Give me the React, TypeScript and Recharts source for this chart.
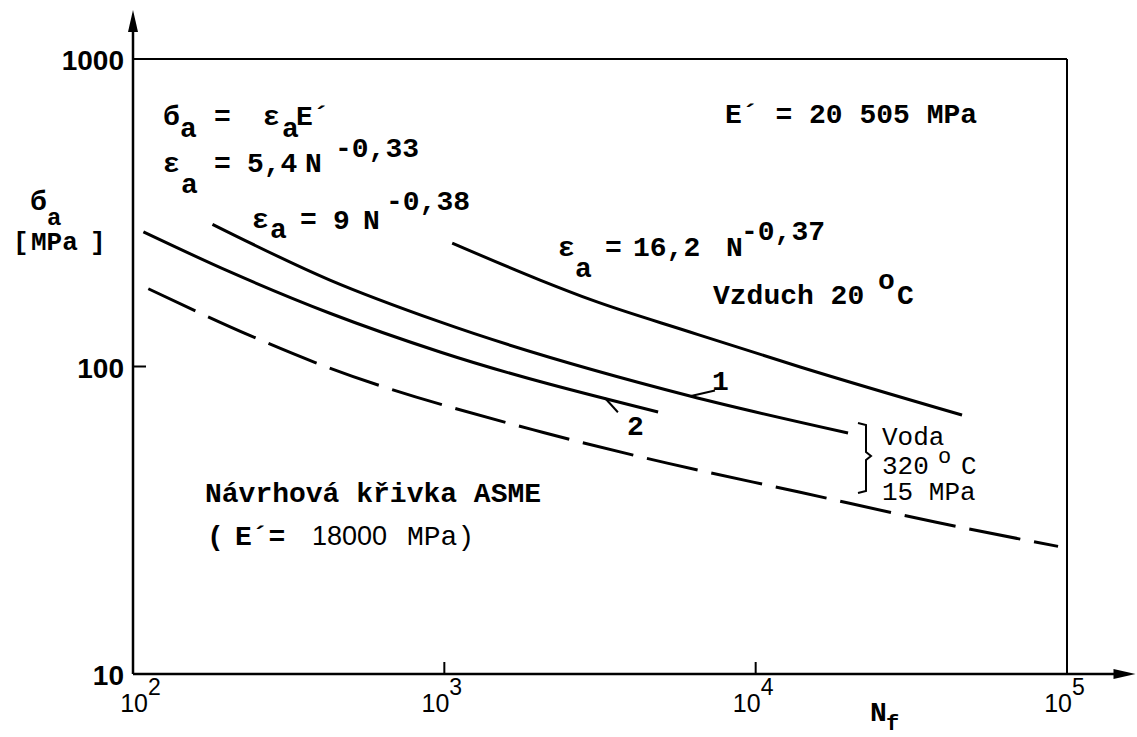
import React from "react";
import { LineChart, Line, XAxis, YAxis, ReferenceLine } from "recharts";

// cycles to failure N_f vs. stress amplitude [MPa]
const airN = [1060, 2030, 3000, 6150, 13900, 46000];
const airS = [252, 191, 164, 129.5, 99.6, 69.5];

const water1N = [180, 429, 969, 6150, 19800];
const water1S = [290, 191, 139.6, 80.2, 60.8];

const water2N = [108, 205, 429, 969, 4860];
const water2S = [274, 203, 149, 111.5, 71.1];

const asmeN = [112, 238, 385, 2080, 5200, 13900, 37700, 93600];
const asmeS = [179, 126, 103, 61, 48.5, 39, 31.2, 26];

const xTicks = [100, 1000, 10000, 100000];
const yTicks = [10, 100, 1000];

// leader lines for the "1" and "2" curve labels
const leader1 = [{ x: 6150, y: 80 }, { x: 7400, y: 83.5 }];
const leader2 = [{ x: 3280, y: 79 }, { x: 3610, y: 71 }];

const rows = (n: number[], s: number[]) => n.map((v, i) => ({ n: v, s: s[i] }));

const mono = "'Liberation Mono', 'DejaVu Sans Mono', monospace";
const sans = "'Liberation Sans', Arial, sans-serif";

const XTick = (props: any) => {
  const { x, y, payload } = props;
  const v = payload.value;
  const exp = Math.round(Math.log10(v));
  const inner = v > 100 && v < 100000;
  // the first label sits a bit right of the corner, clear of the y "10"
  const dx = v === 100 ? 15 : 5;
  return (
    <g>
      {inner && <line x1={x} y1={y} x2={x} y2={y - 12} stroke="#000" strokeWidth={2} />}
      <text x={x + dx} y={y + 38} textAnchor="end" fontFamily={sans} fontSize={25} fill="#000">10</text>
      <text x={x + dx} y={y + 21} fontFamily={sans} fontSize={23} fill="#000">{exp}</text>
    </g>
  );
};

const YTick = (props: any) => {
  const { x, y, payload } = props;
  const v = payload.value;
  return (
    <g>
      {v === 100 && <line x1={x} y1={y} x2={x + 13} y2={y} stroke="#000" strokeWidth={2} />}
      <text x={x - 9} y={y + 11} textAnchor="end" fontFamily={sans} fontWeight="bold" fontSize={28} fill="#000">
        {v}
      </text>
    </g>
  );
};

const arrowShape = (props: any) => {
  const { x1, y1, x2, y2 } = props;
  const dx = x2 - x1;
  const dy = y2 - y1;
  const len = Math.hypot(dx, dy) || 1;
  const ux = dx / len;
  const uy = dy / len;
  const L = 22;
  const W = 5;
  const bx = x2 - ux * L;
  const by = y2 - uy * L;
  const px = -uy * W;
  const py = ux * W;
  return (
    <g>
      <line x1={x1} y1={y1} x2={bx + ux * 4} y2={by + uy * 4} stroke="#000" strokeWidth={2.5} />
      <polygon points={`${x2},${y2} ${bx + px},${by + py} ${bx - px},${by - py}`} fill="#000" />
    </g>
  );
};

const Annotations = () => {
  const b = { fontFamily: mono, fontWeight: "bold" as const, fontSize: 28, fill: "#000" };
  const r = { fontFamily: mono, fontWeight: "normal" as const, fontSize: 26, fill: "#000" };
  return (
    <svg
      width={1137}
      height={737}
      style={{ position: "absolute", left: 0, top: 0, pointerEvents: "none" }}
    >
      {/* y axis title */}
      <text x={30} y={210} {...b}>б</text>
      <text x={47} y={225} {...b} fontSize={24}>a</text>
      <text x={13} y={250} {...b} fontSize={26}>[</text>
      <text x={31} y={250} {...b} fontSize={26}>MPa</text>
      <text x={90} y={250} {...b} fontSize={26}>]</text>

      {/* x axis title */}
      <text x={870} y={721} {...b}>N</text>
      <text x={886} y={730} {...b} fontSize={22}>f</text>

      {/* formulas */}
      <text x={163} y={125} {...b}>б</text>
      <text x={180} y={137} {...b}>a</text>
      <text x={214} y={125} {...b}>=</text>
      <text x={263} y={125} {...b}>ε</text>
      <text x={282} y={137} {...b}>a</text>
      <text x={296} y={125} {...b}>E´</text>

      <text x={163} y={172} {...b}>ε</text>
      <text x={181} y={193} {...b}>a</text>
      <text x={214} y={172} {...b}>=</text>
      <text x={247} y={172} {...b}>5,4</text>
      <text x={305} y={172} {...b}>N</text>
      <text x={335} y={157} {...b}>-0,33</text>

      <text x={252} y={228} {...b}>ε</text>
      <text x={270} y={238} {...b}>a</text>
      <text x={300} y={228} {...b}>=</text>
      <text x={333} y={229} {...b}>9</text>
      <text x={363} y={229} {...b}>N</text>
      <text x={386} y={210} {...b}>-0,38</text>

      <text x={558} y={256} {...b}>ε</text>
      <text x={575} y={277} {...b}>a</text>
      <text x={605} y={256} {...b}>=</text>
      <text x={633} y={256} {...b}>16,2</text>
      <text x={726} y={256} {...b}>N</text>
      <text x={741} y={240} {...b}>-0,37</text>

      <text x={725} y={123} {...b}>E´ = 20 505 MPa</text>

      <text x={713} y={304} {...b}>Vzduch 20</text>
      <text x={878} y={289} {...b}>o</text>
      <text x={897} y={304} {...b}>C</text>

      <text x={712} y={390} {...b}>1</text>
      <text x={627} y={435} {...b}>2</text>

      {/* water bracket */}
      <path
        d="M858 423 L866 425 L866 452 L871 456 L866 460 L866 491 L858 493"
        fill="none"
        stroke="#000"
        strokeWidth={2}
      />
      <text x={882} y={445} {...r}>Voda</text>
      <text x={882} y={474} {...r}>320</text>
      <text x={938} y={463} {...r} fontSize={22}>o</text>
      <text x={961} y={474} {...r}>C</text>
      <text x={882} y={500} {...r}>15 MPa</text>

      <text x={205} y={502} {...b}>Návrhová křivka ASME</text>
      <text x={207} y={545} {...b}>(</text>
      <text x={235} y={545} {...b}>E´=</text>
      <text x={312} y={545} fontFamily={sans} fontSize={27} fill="#000">18000</text>
      <text x={407} y={545} {...r} fontSize={28}>MPa)</text>
    </svg>
  );
};

export default function App() {
  return (
    <div style={{ position: "absolute", left: 0, top: 0, width: 1137, height: 737, background: "#fff" }}>
      <LineChart width={1137} height={737} margin={{ top: 59, right: 70, left: 33, bottom: 13 }}>
        <XAxis
          dataKey="n"
          type="number"
          scale="log"
          domain={[100, 100000]}
          ticks={xTicks}
          interval={0}
          allowDataOverflow
          axisLine={false}
          tickLine={false}
          tickSize={0}
          tickMargin={0}
          height={50}
          tick={<XTick />}
        />
        <YAxis
          dataKey="s"
          type="number"
          scale="log"
          domain={[10, 1000]}
          ticks={yTicks}
          interval={0}
          allowDataOverflow
          axisLine={false}
          tickLine={false}
          tickSize={0}
          tickMargin={0}
          width={100}
          tick={<YTick />}
        />
        {/* frame */}
        <ReferenceLine y={1000} stroke="#000" strokeWidth={2} />
        <ReferenceLine x={100000} stroke="#000" strokeWidth={2} />
        {/* axes with arrows */}
        <ReferenceLine
          segment={[{ x: 100, y: 10 }, { x: 100, y: 1443 }]}
          ifOverflow="visible"
          shape={arrowShape}
        />
        <ReferenceLine
          segment={[{ x: 100, y: 10 }, { x: 166000, y: 10 }]}
          ifOverflow="visible"
          shape={arrowShape}
        />
        <ReferenceLine segment={leader1} stroke="#000" strokeWidth={2} />
        <ReferenceLine segment={leader2} stroke="#000" strokeWidth={2} />

        <Line data={rows(airN, airS)} dataKey="s" type="monotone" stroke="#000" strokeWidth={3} dot={false} isAnimationActive={false} />
        <Line data={rows(water1N, water1S)} dataKey="s" type="monotone" stroke="#000" strokeWidth={3} dot={false} isAnimationActive={false} />
        <Line data={rows(water2N, water2S)} dataKey="s" type="monotone" stroke="#000" strokeWidth={3} dot={false} isAnimationActive={false} />
        <Line
          data={rows(asmeN, asmeS)}
          dataKey="s"
          type="monotone"
          stroke="#000"
          strokeWidth={3}
          strokeDasharray="52 14"
          dot={false}
          isAnimationActive={false}
        />
      </LineChart>
      <Annotations />
    </div>
  );
}
